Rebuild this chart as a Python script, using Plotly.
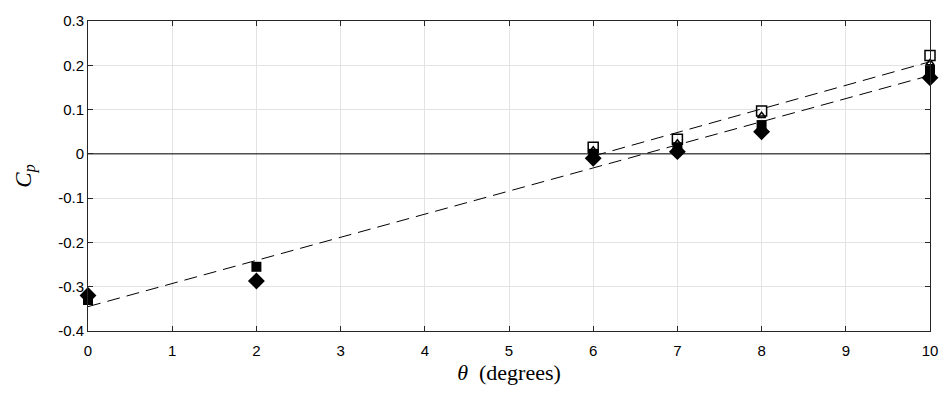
import plotly.graph_objects as go

# data
theta_filled = [0, 2, 6, 7, 8, 10]
cp_filled_square = [-0.330, -0.255, 0.000, 0.015, 0.065, 0.190]
cp_filled_diamond = [-0.320, -0.287, -0.010, 0.005, 0.050, 0.172]

theta_open = [6, 7, 8, 10]
cp_open_square = [0.015, 0.033, 0.097, 0.222]
cp_open_triangle = [0.008, 0.024, 0.086, 0.205]

fit_all_x = [0, 10]
fit_all_y = [-0.345, 0.177]
fit_open_x = [6, 10]
fit_open_y = [-0.005, 0.208]

zero_x = [0, 10]
zero_y = [0, 0]

xticks = [0, 1, 2, 3, 4, 5, 6, 7, 8, 9, 10]
yticks = [-0.4, -0.3, -0.2, -0.1, 0, 0.1, 0.2, 0.3]
ytick_labels = ["-0.4", "-0.3", "-0.2", "-0.1", "0", "0.1", "0.2", "0.3"]

fig = go.Figure()

fig.add_trace(go.Scatter(x=zero_x, y=zero_y, mode="lines",
                         line=dict(color="black", width=1),
                         showlegend=False, hoverinfo="skip"))
fig.add_trace(go.Scatter(x=fit_all_x, y=fit_all_y, mode="lines",
                         line=dict(color="black", width=1, dash="13px,7px"),
                         showlegend=False, hoverinfo="skip"))
fig.add_trace(go.Scatter(x=fit_open_x, y=fit_open_y, mode="lines",
                         line=dict(color="black", width=1, dash="13px,7px"),
                         showlegend=False, hoverinfo="skip"))

fig.add_trace(go.Scatter(x=theta_open, y=cp_open_square, mode="markers",
                         marker=dict(symbol="square-open", size=10, color="black",
                                     line=dict(width=1.5, color="black")),
                         showlegend=False, cliponaxis=False))
fig.add_trace(go.Scatter(x=theta_open, y=cp_open_triangle, mode="markers",
                         marker=dict(symbol="triangle-up-open", size=7, color="black",
                                     line=dict(width=1.5, color="black")),
                         showlegend=False, cliponaxis=False))
fig.add_trace(go.Scatter(x=theta_filled, y=cp_filled_square, mode="markers",
                         marker=dict(symbol="square", size=10, color="black"),
                         showlegend=False, cliponaxis=False))
fig.add_trace(go.Scatter(x=theta_filled, y=cp_filled_diamond, mode="markers",
                         marker=dict(symbol="diamond", size=13, color="black"),
                         showlegend=False, cliponaxis=False))

axis_common = dict(
    showline=True, linecolor="#262626", linewidth=1, mirror="allticks",
    ticks="inside", ticklen=5, tickcolor="#262626", tickwidth=1,
    showgrid=True, gridcolor="#e3e3e3", gridwidth=1,
    tickfont=dict(family="Liberation Sans", size=15, color="black"),
    zeroline=False,
)

fig.update_xaxes(range=[0, 10], tickvals=xticks, ticklabelstandoff=6, **axis_common,
                 title=dict(text="<i>θ</i>&nbsp;&nbsp;(degrees)", standoff=6,
                            font=dict(family="Liberation Serif", size=22, color="black")))
fig.update_yaxes(range=[-0.4, 0.3], tickvals=yticks, ticktext=ytick_labels, **axis_common,
                 title=dict(text="<i>C<sub>p</sub></i>", standoff=20,
                            font=dict(family="Liberation Serif", size=23, color="black")))

fig.update_layout(
    width=950, height=396,
    margin=dict(l=88, r=12, t=16, b=65),
    plot_bgcolor="white", paper_bgcolor="white",
)

fig.write_html("out.html")
